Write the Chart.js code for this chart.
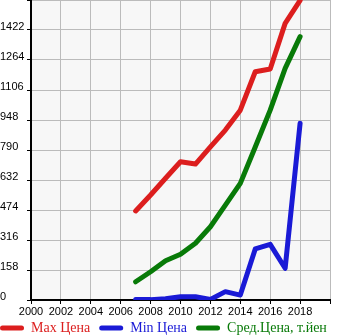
<!DOCTYPE html>
<html>
<head>
<meta charset="utf-8">
<script src="https://cdn.jsdelivr.net/npm/chart.js@4.4.0/dist/chart.umd.min.js"></script>
<style>
  html, body { margin: 0; padding: 0; background: #fff; }
</style>
</head>
<body>
<canvas id="price-chart" width="345" height="335"></canvas>
<script>
// Data
const years = [2007, 2008, 2009, 2010, 2011, 2012, 2013, 2014, 2015, 2016, 2017, 2018];
const maxPrice = [469, 553, 641, 728, 716, 806, 895, 1000, 1202, 1217, 1457, 1578];
const minPrice = [2, 2, 7, 17, 17, 3, 44, 26, 269, 293, 167, 931];
const avgPrice = [96, 149, 207, 241, 299, 386, 500, 614, 806, 1000, 1220, 1387];
const seriesNames = ['Max Цена', 'Min Цена', 'Сред.Цена, т.йен'];
const seriesColors = ['#dc1e1e', '#1a1ad6', '#087a08'];

// y axis runs 0..1580 in steps of 158, x axis 2000..2020 in steps of 2
const yMax = 1580, yStep = 158;
const xMin = 2000, xMax = 2020, xStep = 2;

const toPoints = (vals) => vals.map((v, i) => ({ x: years[i], y: v }));

// light gray plot background
const plotBackground = {
  id: 'plotBackground',
  beforeDraw(chart) {
    const { ctx, chartArea: a } = chart;
    ctx.save();
    ctx.fillStyle = '#f7f7f7';
    ctx.fillRect(a.left, a.top, a.right - a.left, a.bottom - a.top);
    ctx.restore();
  }
};

// legend sits tight under the tick labels and starts at the left edge
const legendShift = {
  id: 'legendShift',
  afterLayout(chart) {
    const lg = chart.legend;
    if (!lg) return;
    lg.left -= 9;
    lg.right -= 9;
    lg.top -= 6;
  }
};

const ctx = document.getElementById('price-chart');

new Chart(ctx, {
  type: 'line',
  data: {
    datasets: [maxPrice, minPrice, avgPrice].map((vals, i) => ({
      label: seriesNames[i],
      data: toPoints(vals),
      borderColor: seriesColors[i],
      backgroundColor: seriesColors[i],
      borderWidth: 5,
      borderCapStyle: 'round',
      borderJoinStyle: 'round',
      pointRadius: 0,
      tension: 0,
      fill: false,
    })),
  },
  options: {
    responsive: false,
    animation: false,
    layout: { padding: 0 },
    plugins: {
      tooltip: { enabled: false },
      legend: {
        position: 'bottom',
        align: 'start',
        maxHeight: 17,
        labels: {
          font: { family: 'Liberation Serif', size: 14 },
          boxWidth: 24,
          boxHeight: 5,
          padding: 9,
          useBorderRadius: true,
          borderRadius: 2.5,
          generateLabels(chart) {
            return chart.data.datasets.map((ds, i) => ({
              text: ds.label,
              fillStyle: ds.borderColor,
              strokeStyle: ds.borderColor,
              lineWidth: 0,
              fontColor: ds.borderColor,
              datasetIndex: i,
              borderRadius: 2.5,
            }));
          },
        },
      },
    },
    scales: {
      x: {
        type: 'linear',
        min: xMin,
        max: xMax,
        afterFit(scale) {
          scale.height = 18;
          scale.paddingLeft = 0;
          scale.paddingRight = 0;
        },
        border: { color: '#000', width: 2 },
        grid: { color: '#bbbbbb', tickColor: '#000', tickLength: 4 },
        ticks: {
          stepSize: xStep,
          autoSkip: false,
          maxRotation: 0,
          padding: 1,
          color: '#000',
          font: { family: 'Liberation Sans', size: 11 },
          callback: (v) => (v === xMax ? '' : String(v)),
        },
      },
      y: {
        min: 0,
        max: yMax,
        afterFit(scale) {
          scale.width = 31;
          scale.paddingTop = 0;
          scale.paddingBottom = 0;
        },
        border: { color: '#000', width: 2 },
        grid: { color: '#bbbbbb', tickColor: '#000', tickLength: 4 },
        ticks: {
          stepSize: yStep,
          crossAlign: 'far',
          labelOffset: -3,
          color: '#000',
          font: { family: 'Liberation Sans', size: 11 },
          callback: (v) => (Math.round(v) >= yMax ? '' : String(Math.round(v))),
        },
      },
      // empty strip on the right so the plot ends at x = 330
      yRight: {
        position: 'right',
        display: true,
        grid: { display: false },
        border: { display: false },
        ticks: { display: false },
        afterFit(scale) { scale.width = 15; },
      },
    },
  },
  plugins: [plotBackground, legendShift],
});
</script>
</body>
</html>
